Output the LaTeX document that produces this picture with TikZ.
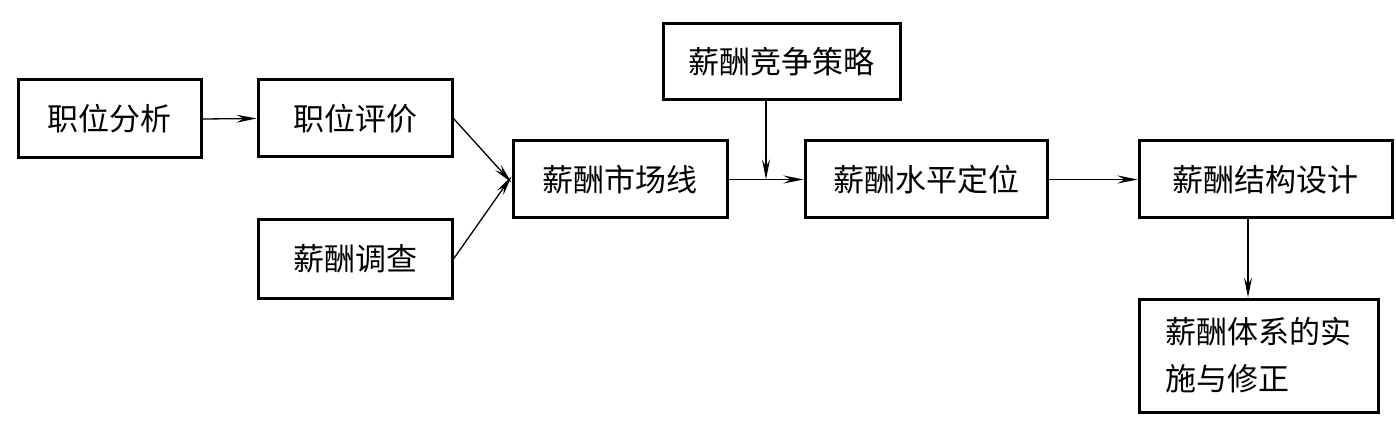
\documentclass[tikz,border=0pt]{standalone}
\usepackage{fontspec}
\newfontfamily\cjk{Noto Sans CJK SC}
\usetikzlibrary{arrows.meta}
\begin{document}
\begin{tikzpicture}[x=1pt,y=-1pt,
  box/.style={draw, line width=3pt, inner sep=0pt, font=\cjk\fontsize{31}{47}\selectfont},
  arr/.style={line width=1.3pt, -{Stealth[length=20pt,width=8pt,inset=7pt]}}]
\useasboundingbox (0,0) rectangle (1396,438);
\node[box, minimum width=183pt, minimum height=78pt] (a) at (109.5,119) {职位分析};
\node[box, minimum width=194pt, minimum height=77pt] (b) at (355,118.5) {职位评价};
\node[box, minimum width=194pt, minimum height=78pt] (c) at (355,259) {薪酬调查};
\node[box, minimum width=214pt, minimum height=77pt] (d) at (620,179.5) {薪酬市场线};
\node[box, minimum width=237pt, minimum height=76pt] (e) at (781.5,62) {薪酬竞争策略};
\node[box, minimum width=242pt, minimum height=77pt] (f) at (926,179.5) {薪酬水平定位};
\node[box, minimum width=253pt, minimum height=77pt] (g) at (1265.5,179.5) {薪酬结构设计};
\node[box, minimum width=239pt, minimum height=113pt, align=left] (h) at (1258.5,355.5) {薪酬体系的实\\施与修正\phantom{的实}};
\coordinate (m) at (766,179.5);
\coordinate (n) at (1248,179.5);
\draw[arr] (a.east) -- (b.west);
\draw[arr] (b.east) -- ([yshift=-3pt]d.west);
\draw[arr] (c.east) -- ([yshift=3pt]d.west);
\draw[arr] (d.east) -- (f.west);
\draw[arr] (e.south -| m) -- (m);
\draw[arr] (f.east) -- (g.west);
\draw[arr] (g.south -| n) -- (h.north -| n);
\end{tikzpicture}
\end{document}
